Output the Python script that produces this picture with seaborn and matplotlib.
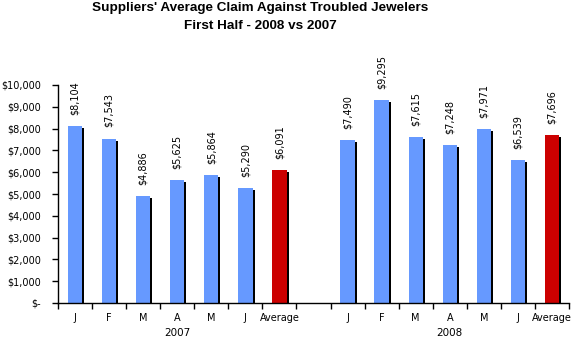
import matplotlib
matplotlib.use("Agg")
import matplotlib.pyplot as plt
import matplotlib.transforms as mtransforms
import seaborn as sns
import pandas as pd

title_lines = ["Suppliers' Average Claim Against Troubled Jewelers", "First Half - 2008 vs 2007"]
months = ["J", "F", "M", "A", "M", "J", "Average"]
years = ["2007", "2008"]
values_2007 = [8104, 7543, 4886, 5625, 5864, 5290, 6091]
values_2008 = [7490, 9295, 7615, 7248, 7971, 6539, 7696]
y_ticks = [0, 1000, 2000, 3000, 4000, 5000, 6000, 7000, 8000, 9000, 10000]

BLUE = "#6699FF"
RED = "#CC0000"

rows = []
for year, vals in zip(years, [values_2007, values_2008]):
    for i, (m, v) in enumerate(zip(months, vals)):
        rows.append({"slot": f"{year}-{i}", "label": m, "value": v,
                     "kind": "Average" if m == "Average" else "Month"})
df = pd.DataFrame(rows)
order = [f"2007-{i}" for i in range(7)] + ["gap"] + [f"2008-{i}" for i in range(7)]
tick_labels = months + [""] + months

sns.set_style("white")
plt.rcParams["font.family"] = ["DejaVu Sans"]
plt.rcParams["text.color"] = "black"
plt.rcParams["xtick.color"] = "black"
plt.rcParams["ytick.color"] = "black"
plt.rcParams["axes.labelcolor"] = "black"

fig = plt.figure(figsize=(5.75, 3.4), dpi=100)
ax = fig.add_axes([58 / 575, 37 / 340, (569 - 58) / 575, (303 - 85) / 340])

bw = 0.42
# shadow bars
sns.barplot(data=df, x="slot", y="value", order=order, color="black",
            width=bw, ax=ax, errorbar=None, saturation=1, zorder=1, linewidth=0)
offset = mtransforms.ScaledTranslation(2 / 100, -2 / 100, fig.dpi_scale_trans)
for p in list(ax.patches):
    p.set_transform(ax.transData + offset)
n_shadow = len(ax.containers)

sns.barplot(data=df, x="slot", y="value", order=order, hue="kind",
            palette={"Month": BLUE, "Average": RED}, dodge=False,
            width=bw, ax=ax, errorbar=None, saturation=1, legend=False, zorder=2,
            linewidth=0)

for c in ax.containers[n_shadow:]:
    ax.bar_label(c, labels=[f"${v:,.0f}" if v == v and v > 0 else "" for v in c.datavalues],
                 rotation=90, padding=8, fontsize=7, color="black", clip_on=False)

ax.set_ylim(0, 10000)
ax.set_xlim(-0.5, len(order) - 0.5)
ax.set_yticks(y_ticks)
ax.set_yticklabels(["$-" if v == 0 else f"${v:,.0f}" for v in y_ticks], fontsize=7)
ax.set_xticks(range(len(order)))
ax.set_xticklabels(tick_labels, fontsize=7)
ax.set_xticks([i - 0.5 for i in range(len(order) + 1)], minor=True)
ax.tick_params(axis="x", which="major", length=0, pad=7, bottom=True)
ax.tick_params(axis="x", which="minor", length=4, width=1, color="black",
               direction="out", bottom=True)
ax.tick_params(axis="y", which="major", length=4, width=1, color="black",
               direction="out", pad=8, left=True)
ax.set_xlabel("")
ax.set_ylabel("")
for s in ["top", "right"]:
    ax.spines[s].set_visible(False)
for s in ["left", "bottom"]:
    ax.spines[s].set_color("black")
    ax.spines[s].set_linewidth(1)

trans = mtransforms.blended_transform_factory(ax.transData, fig.transFigure)
ax.text(3, 1 - 333 / 340, years[0], transform=trans, ha="center", va="center", fontsize=7.5)
ax.text(11, 1 - 333 / 340, years[1], transform=trans, ha="center", va="center", fontsize=7.5)

fig.text(260 / 575, 1 - 8 / 340, title_lines[0], ha="center", va="center",
         fontsize=9.7, fontweight="bold", family="Liberation Sans")
fig.text(260 / 575, 1 - 26 / 340, title_lines[1], ha="center", va="center",
         fontsize=9.7, fontweight="bold", family="Liberation Sans")

fig.savefig("out.png", dpi=100)
